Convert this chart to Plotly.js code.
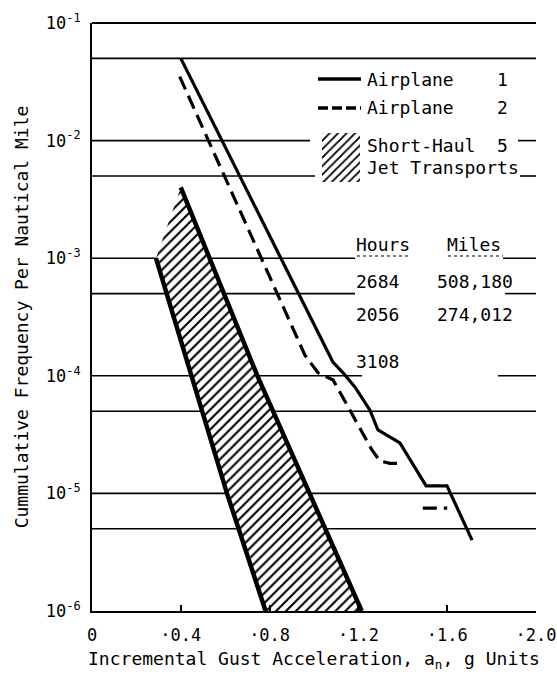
<!DOCTYPE html>
<html><head><meta charset="utf-8">
<script src="https://cdn.plot.ly/plotly-3.0.1.min.js"></script>
<style>html,body{margin:0;padding:0;background:#fff}</style>
</head><body><div id="chart" style="width:557px;height:679px"></div>
<script>
// ---------------- data ----------------
const airplane1X = [0.40, 1.085, 1.131, 1.185, 1.252, 1.288, 1.387, 1.505, 1.599, 1.712];
const airplane1Y = [5.0e-2, 1.31e-4, 1.06e-4, 8.0e-5, 5.1e-5, 3.46e-5, 2.69e-5, 1.16e-5, 1.16e-5, 4.0e-6];
const airplane2X = [0.395, 0.959, 1.018, 1.086, 1.162, 1.261, 1.297, 1.342, 1.396, null, 1.49, 1.60];
const airplane2Y = [3.5e-2, 1.5e-4, 1.06e-4, 9.2e-5, 5.1e-5, 2.34e-5, 1.89e-5, 1.8e-5, 1.8e-5, null, 7.5e-6, 7.5e-6];
const shortHaulUpperX = [0.40, 0.745, 0.98, 1.215];
const shortHaulUpperY = [4e-3, 1e-4, 1e-5, 1e-6];
const shortHaulLowerX = [0.288, 0.608, 0.782];
const shortHaulLowerY = [1e-3, 1e-5, 1e-6];
const xTickVals = [0, 0.4, 0.8, 1.2, 1.6, 2.0];
const xTickText = ['0', '·0.4', '·0.8', '·1.2', '·1.6', '·2.0'];
const yTickVals = [1e-1, 1e-2, 1e-3, 1e-4, 1e-5, 1e-6];
const yTickText = ['10<sup>-1</sup>', '10<sup>-2</sup>', '10<sup>-3</sup>', '10<sup>-4</sup>', '10<sup>-5</sup>', '10<sup>-6</sup>'];
const seriesNames = ['Airplane', 'Airplane', 'Short-Haul', 'Jet Transports'];
const seriesNumbers = ['1', '2', '5'];
const tableHeaders = ['Hours', 'Miles'];
const tableHours = ['2684', '2056', '3108'];
const tableMiles = ['508,180', '274,012'];

// ---------------- layout helpers ----------------
const X0 = 92, X1 = 536, Y0 = 23, Y1 = 611;
const px = x => (x - X0) / (X1 - X0);            // pixel -> paper x
const py = y => (Y1 - y) / (Y1 - Y0);            // pixel -> paper y
const pxA = x => (x - X0) / (X1 - X0) * 2;       // pixel -> axis units
const pyV = y => Math.pow(10, -1 - (y - Y0) / ((Y1 - Y0) / 5)); // pixel -> value
const vy = v => (Math.log10(v) + 6) / 5;         // value -> paper y

const FONT = 'DejaVu Sans Mono';
const NB = '\u00A0';
const pad = (name, num, width) => name + NB.repeat(width - name.length) + num;

const bandX = shortHaulUpperX.concat(shortHaulLowerX.slice().reverse(), [shortHaulUpperX[0]]);
const bandY = shortHaulUpperY.concat(shortHaulLowerY.slice().reverse(), [shortHaulUpperY[0]]);

// text placements (pixel anchors)
const leftTexts = [
  [pad(seriesNames[0], seriesNumbers[0], 12), 367, 81],
  [pad(seriesNames[1], seriesNumbers[1], 12), 367, 109],
  [pad(seriesNames[2], seriesNumbers[2], 12), 367, 147],
  [seriesNames[3], 367, 169],
  [tableHeaders[0], 356, 246], [tableHeaders[1], 447, 246],
  [tableHours[0], 356, 283], [tableMiles[0], 437, 283],
  [tableHours[1], 356, 316], [tableMiles[1], 437, 316],
  [tableHours[2], 356, 363]
];

const traces = [
  { x: bandX, y: bandY, mode: 'lines', fill: 'toself', fillcolor: '#fff',
    fillpattern: { shape: '/', size: 7, solidity: 0.3, fgcolor: '#000', bgcolor: '#fff' },
    line: { width: 0, color: 'rgba(0,0,0,0)' }, hoverinfo: 'skip', showlegend: false },
  { x: shortHaulUpperX, y: shortHaulUpperY, mode: 'lines', line: { color: '#000', width: 4.5 }, showlegend: false },
  { x: shortHaulLowerX, y: shortHaulLowerY, mode: 'lines', line: { color: '#000', width: 4.5 }, showlegend: false },
  { x: airplane1X, y: airplane1Y, mode: 'lines', name: 'Airplane 1', line: { color: '#000', width: 3.2 }, showlegend: false },
  { x: airplane2X, y: airplane2Y, mode: 'lines', name: 'Airplane 2', connectgaps: false,
    line: { color: '#000', width: 3.2, dash: '14px,7px' }, showlegend: false },
  // legend hatch icon
  { x: [pxA(322), pxA(360), pxA(360), pxA(322), pxA(322)],
    y: [pyV(133), pyV(133), pyV(182), pyV(182), pyV(133)],
    mode: 'lines', fill: 'toself', fillcolor: '#fff',
    fillpattern: { shape: '/', size: 6, solidity: 0.3, fgcolor: '#000', bgcolor: '#fff' },
    line: { width: 0, color: 'rgba(0,0,0,0)' }, hoverinfo: 'skip', showlegend: false },
  // legend & table texts
  { x: leftTexts.map(t => pxA(t[1])), y: leftTexts.map(t => pyV(t[2])), text: leftTexts.map(t => t[0]),
    mode: 'text', textposition: 'middle right', textfont: { family: FONT, size: 18, color: '#000' },
    cliponaxis: false, hoverinfo: 'skip', showlegend: false }
];

// gridline segments (axis units)
const gridSegs = [
  [1e-1, [[0, 2.0]]],
  [5e-2, [[0, 2.0]]],
  [1e-2, [[0, pxA(310)], [pxA(518), 2.0]]],
  [5e-3, [[0, pxA(315)], [pxA(520), 2.0]]],
  [1e-3, [[0, pxA(355)], [pxA(503), 2.0]]],
  [5e-4, [[0, pxA(355)], [pxA(505), 2.0]]],
  [1e-4, [[0, pxA(362)], [pxA(498), 2.0]]],
  [5e-5, [[0, 2.0]]],
  [1e-5, [[0, 2.0]]],
  [5e-6, [[0, 2.0]]]
];
const shapes = [];
gridSegs.forEach(([v, spans]) => spans.forEach(([a, b]) => shapes.push({
  type: 'line', xref: 'x', yref: 'paper', x0: a, x1: b, y0: vy(v), y1: vy(v),
  line: { color: '#000', width: v === 1e-1 ? 2 : 1.6 }, layer: 'below'
})));
// dotted underline beneath table header
[[357, 410], [448, 503]].forEach(([a, b]) => shapes.push({
  type: 'line', xref: 'paper', yref: 'paper', x0: px(a), x1: px(b), y0: py(256), y1: py(256),
  line: { color: '#000', width: 1.2, dash: 'dot' }
}));
// legend samples
shapes.push({ type: 'line', xref: 'paper', yref: 'paper', x0: px(318), x1: px(361), y0: py(79), y1: py(79), line: { color: '#000', width: 3.5 } });
shapes.push({ type: 'line', xref: 'paper', yref: 'paper', x0: px(318), x1: px(361), y0: py(108), y1: py(108), line: { color: '#000', width: 3.5, dash: '10px,4px' } });

const layout = {
  width: 557, height: 679, paper_bgcolor: '#fff', plot_bgcolor: '#fff',
  margin: { l: X0, r: 557 - X1, t: Y0, b: 679 - Y1 },
  showlegend: false,
  font: { family: FONT, color: '#000', size: 17 },
  xaxis: {
    range: [0, 2], showgrid: false, zeroline: false, showline: true, linewidth: 2, linecolor: '#000',
    ticks: 'inside', ticklen: 6, tickwidth: 1.5, tickcolor: '#000',
    tickvals: xTickVals, ticktext: xTickText, tickfont: { family: FONT, size: 17, color: '#000' },
    ticklabelstandoff: 8,
    title: { text: 'Incremental Gust Acceleration, a<sub>n</sub>, g Units', font: { family: FONT, size: 18, color: '#000' }, standoff: 8 }
  },
  yaxis: {
    type: 'log', range: [-6, -1], showgrid: false, zeroline: false, showline: true, linewidth: 2, linecolor: '#000',
    ticks: '', tickvals: yTickVals, ticktext: yTickText, tickfont: { family: FONT, size: 17, color: '#000' },
    ticklabelstandoff: 6,
    title: { text: 'Cummulative Frequency Per Nautical Mile', font: { family: FONT, size: 18, color: '#000' }, standoff: 12 }
  },
  shapes
};

Plotly.newPlot('chart', traces, layout, { displayModeBar: false });
</script>
</body></html>
